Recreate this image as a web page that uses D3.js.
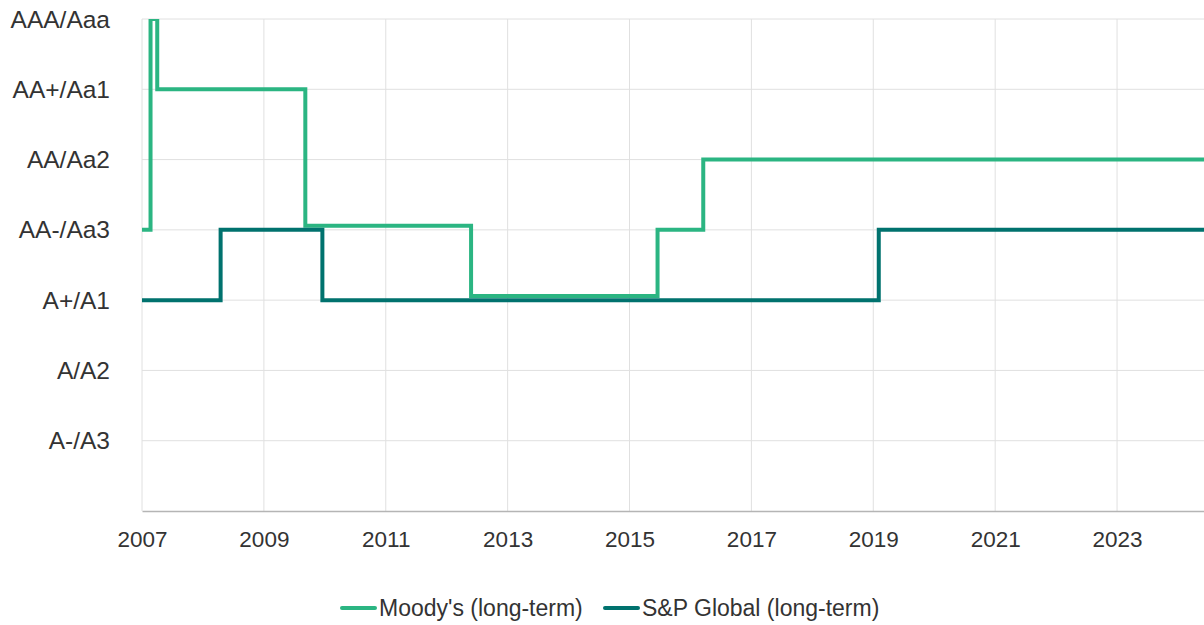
<!DOCTYPE html>
<html>
<head>
<meta charset="utf-8">
<script src="https://cdn.jsdelivr.net/npm/d3@7"></script>
<style>
  body { margin: 0; background: #fff; }
  text { font-family: "Liberation Sans", Arial, sans-serif; fill: #333; }
</style>
</head>
<body>
<script>
// rating levels, 1 = A-/A3 ... 7 = AAA/Aaa
const ratingLabels = ["A-/A3", "A/A2", "A+/A1", "AA-/Aa3", "AA/Aa2", "AA+/Aa1", "AAA/Aaa"];
const yearTicks = [2007, 2009, 2011, 2013, 2015, 2017, 2019, 2021, 2023];

// step points [year, level]
const moodysYears = [2007.0, 2007.14, 2007.25, 2009.68, 2012.4, 2015.46, 2016.21, 2025];
const moodysLevels = [4, 7, 6, 4.06, 3.06, 4, 5, 5];
const spYears = [2007.0, 2008.29, 2009.96, 2019.09, 2025];
const spLevels = [3, 4, 3, 4, 4];

const seriesNames = ["Moody's (long-term)", "S&P Global (long-term)"];
const colors = ["#2bb582", "#00726e"];

const width = 1204, height = 625;
const margin = { top: 19, left: 142, bottom: 114 };

const svg = d3.select("body").append("svg")
    .attr("width", width)
    .attr("height", height);

const x = d3.scaleLinear().domain([2007, 2025]).range([margin.left, margin.left + 18 * 60.94]);
const y = d3.scaleLinear().domain([0, 7]).range([height - margin.bottom, margin.top]);

// grid
const grid = svg.append("g");
grid.selectAll(".hg")
    .data(d3.range(1, 8))
    .join("line")
    .attr("x1", margin.left).attr("x2", width)
    .attr("y1", d => y(d)).attr("y2", d => y(d))
    .attr("stroke", "#e0e0e0").attr("stroke-width", 1);

grid.selectAll(".vg")
    .data(yearTicks)
    .join("line")
    .attr("x1", d => x(d)).attr("x2", d => x(d))
    .attr("y1", y(7)).attr("y2", y(0))
    .attr("stroke", "#e0e0e0").attr("stroke-width", 1);

// y labels
svg.append("g")
    .selectAll("text")
    .data(ratingLabels)
    .join("text")
    .attr("x", 110)
    .attr("y", (d, i) => y(i + 1))
    .attr("dy", "0.35em")
    .attr("text-anchor", "end")
    .style("font-size", "24.5px")
    .text(d => d);

// x axis
const xAxis = d3.axisBottom(x)
    .tickValues(yearTicks)
    .tickFormat(d3.format("d"))
    .tickSize(0)
    .tickPadding(20);

const gx = svg.append("g")
    .attr("transform", `translate(0,${y(0)})`)
    .call(xAxis);
gx.select(".domain").attr("stroke", "#b5b5b5").attr("stroke-width", 1.5);
gx.selectAll("text").style("font-size", "22.5px").attr("fill", "#333");

// clip
svg.append("clipPath").attr("id", "plot")
    .append("rect")
    .attr("x", margin.left).attr("y", margin.top)
    .attr("width", width - margin.left).attr("height", y(0) - margin.top);

const line = d3.line()
    .x(d => x(d[0]))
    .y(d => y(d[1]))
    .curve(d3.curveStepAfter);

const series = [
    d3.zip(moodysYears, moodysLevels),
    d3.zip(spYears, spLevels)
];

svg.append("g")
    .attr("clip-path", "url(#plot)")
    .selectAll("path")
    .data(series)
    .join("path")
    .attr("d", line)
    .attr("fill", "none")
    .attr("stroke", (d, i) => colors[i])
    .attr("stroke-width", 4);

// legend
const legend = svg.append("g").attr("transform", "translate(0,608)");
const legendX = [340, 603];
const item = legend.selectAll("g")
    .data(seriesNames)
    .join("g")
    .attr("transform", (d, i) => `translate(${legendX[i]},0)`);
item.append("line")
    .attr("x1", 2).attr("x2", 35)
    .attr("stroke", (d, i) => colors[i])
    .attr("stroke-width", 4)
    .attr("stroke-linecap", "round");
item.append("text")
    .attr("x", 39)
    .attr("dy", "0.35em")
    .style("font-size", "23px")
    .text(d => d);
</script>
</body>
</html>
